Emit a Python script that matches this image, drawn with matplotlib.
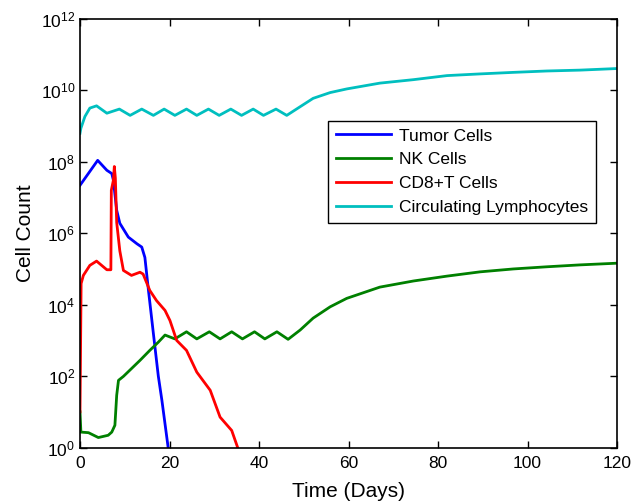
import matplotlib
matplotlib.use("Agg")
import matplotlib.pyplot as plt
from matplotlib.ticker import FixedLocator, NullLocator

plt.rcParams["font.family"] = ["Liberation Sans", "DejaVu Sans"]
plt.rcParams["mathtext.fontset"] = "custom"
plt.rcParams["mathtext.rm"] = "Liberation Sans"
plt.rcParams["mathtext.it"] = "Liberation Sans:italic"

# 肿瘤细胞
tumor_days = [0, 3.95, 6.0, 7.1, 7.45, 8.2, 8.9, 10.8, 12.7, 13.8, 14.5, 15.3,
              16.4, 17.5, 18.3, 19.8]
tumor_cells = [2.2e7, 1.1e8, 5.8e7, 4.7e7, 3.1e7, 4.4e6, 1.9e6, 7.8e5, 5.1e5,
               4.1e5, 2.1e5, 2.5e4, 1.55e3, 100, 21, 0.8]

# NK 细胞
nk_days = [0, 0.2, 1.9, 4.1, 6.3, 7.1, 7.8, 8.2, 8.6, 9.7, 13.4, 15.6, 17.5,
           19.0, 21.2, 23.8, 26.1, 28.9, 31.3, 33.9, 36.3, 39.0, 41.3, 44.0,
           46.5, 49.2, 52.1, 55.9, 59.6, 67, 74.5, 82, 89.4, 96.8, 104.3,
           111.7, 120]
nk_cells = [10, 2.7, 2.6, 1.9, 2.2, 2.7, 4.2, 29, 76, 98, 275, 525, 890,
            1410, 1100, 1740, 1100, 1740, 1100, 1740, 1100, 1740, 1100, 1740,
            1070, 1950, 4200, 8700, 1.5e4, 3.1e4, 4.6e4, 6.3e4, 8.3e4, 1.0e5,
            1.15e5, 1.3e5, 1.45e5]

# CD8+T 细胞
cd8_days = [0, 0.25, 0.75, 2.2, 3.7, 6.0, 6.9, 7.0, 7.45, 7.67, 7.9, 8.2,
            8.9, 9.7, 11.5, 13.4, 14.1, 15.6, 17.1, 19.0, 20.1, 21.6, 23.8,
            26.1, 29.1, 31.3, 33.9, 35.5]
cd8_cells = [10, 3.9e4, 6.6e4, 1.26e5, 1.66e5, 9.5e4, 9.5e4, 1.6e7, 3.0e7,
             7.4e7, 3.5e7, 2.0e6, 3.2e5, 9.1e4, 6.6e4, 8.1e4, 7.2e4, 2.5e4,
             1.3e4, 6.9e3, 3.6e3, 1.0e3, 525, 129, 40, 7.1, 3.0, 0.8]

# 循环淋巴细胞
lym_days = [0, 0.2, 1.1, 2.2, 3.7, 6.0, 8.8, 11.2, 13.8, 16.4, 18.8, 21.2,
            23.8, 26.1, 28.7, 31.1, 33.7, 36.1, 38.7, 41.0, 43.8, 46.2, 48.0,
            52.1, 55.9, 59.6, 67, 74.5, 82, 89.4, 96.8, 104.3, 111.7, 120]
lym_cells = [6.3e8, 8.7e8, 1.86e9, 3.2e9, 3.7e9, 2.3e9, 3.0e9, 2.0e9, 3.0e9,
             2.0e9, 3.0e9, 2.0e9, 3.0e9, 2.0e9, 3.0e9, 2.0e9, 3.0e9, 2.0e9,
             3.0e9, 2.0e9, 3.0e9, 2.0e9, 2.8e9, 6.0e9, 8.7e9, 1.1e10, 1.6e10,
             2.0e10, 2.6e10, 2.9e10, 3.2e10, 3.5e10, 3.7e10, 4.1e10]

x_ticks = [0, 20, 40, 60, 80, 100, 120]
y_ticks = [1e0, 1e2, 1e4, 1e6, 1e8, 1e10, 1e12]

fig = plt.figure(figsize=(6.31, 5.03), dpi=100)
ax = fig.add_axes([80 / 631, 1 - 447.5 / 503, 537 / 631, 428.5 / 503])

lw = 2.0
ax.plot(tumor_days, tumor_cells, color="#0000ff", lw=lw, label="Tumor Cells")
ax.plot(nk_days, nk_cells, color="#008000", lw=lw, label="NK Cells")
ax.plot(cd8_days, cd8_cells, color="#ff0000", lw=lw, label="CD8+T Cells")
ax.plot(lym_days, lym_cells, color="#00bfbf", lw=lw, label="Circulating Lymphocytes")

ax.set_yscale("log")
ax.set_xlim(0, 120)
ax.set_ylim(1e0, 1e12)
ax.xaxis.set_major_locator(FixedLocator(x_ticks))
ax.yaxis.set_major_locator(FixedLocator(y_ticks))
ax.yaxis.set_minor_locator(NullLocator())
ax.tick_params(direction="in", top=True, right=True, labelsize=12.5,
               length=5, width=1)
ax.tick_params(axis="x", pad=6)
for sp in ax.spines.values():
    sp.set_linewidth(1.2)

ax.set_xlabel("Time (Days)", fontsize=15, labelpad=8)
ax.set_ylabel("Cell Count", fontsize=15, labelpad=4)

leg = ax.legend(loc="upper left", bbox_to_anchor=(0.462, 0.763),
                borderaxespad=0, fontsize=12.5, fancybox=False,
                edgecolor="black", framealpha=1, handlelength=3.2,
                handletextpad=0.45, labelspacing=0.5, borderpad=0.45)
leg.get_frame().set_linewidth(1.0)

fig.savefig("out.png", dpi=100)
